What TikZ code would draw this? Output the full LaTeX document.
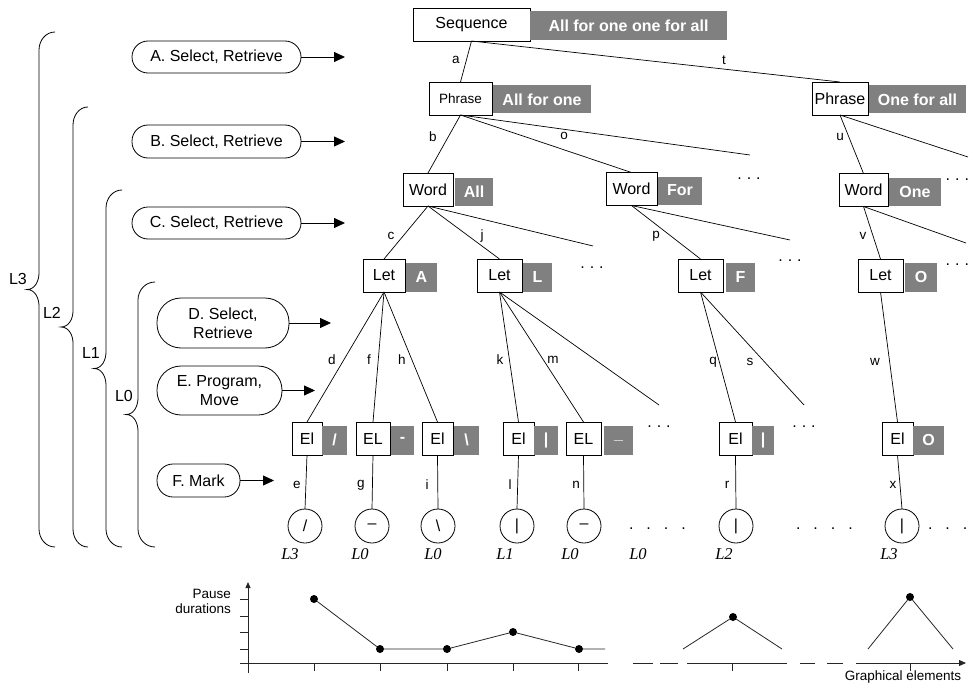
\documentclass[tikz,border=0pt]{standalone}
\usepackage{fontspec}
\setmainfont{Liberation Sans}
\newfontfamily\serifit{Liberation Serif}
\usetikzlibrary{arrows.meta}
\definecolor{lblgray}{RGB}{128,128,128}
\newcommand{\fsz}[1]{\fontsize{#1}{#1}\selectfont}
\newcommand{\tdots}{.\hspace{5pt}.\hspace{5pt}.}
\newcommand{\bdots}{.\hspace{13pt}.\hspace{13pt}.\hspace{13pt}.}
\newcommand{\bdotsthree}{.\hspace{13pt}.\hspace{13pt}.}
\begin{document}
\begin{tikzpicture}[x=1pt,y=-1pt,
  every node/.style={inner sep=0pt, outer sep=0pt},
  wbox/.style={draw, fill=white, line width=0.8pt, font=\fsz{16}, minimum height=33pt},
  gbox/.style={fill=lblgray, text=white, font=\fsz{16}\bfseries, minimum height=29pt},
  tline/.style={line width=0.7pt},
  elab/.style={font=\fsz{13.5}},
  pill/.style={draw, line width=0.8pt, rounded corners=16pt, font=\fontsize{16}{19}\selectfont, align=center},
  arr/.style={line width=0.8pt, -{Triangle[length=11pt,width=10pt]}},
  circ/.style={draw, circle, minimum size=34pt, line width=0.8pt, font=\fsz{16}},
  lev/.style={font=\serifit\itshape\fsz{16.5}},
  ellip/.style={font=\fsz{16}, anchor=base},
  bracel/.style={line width=0.8pt},
  gdot/.style={circle, fill=black, minimum size=8pt},
  axl/.style={line width=0.8pt, black!85},
]
\useasboundingbox (0,0) rectangle (970,685);

% ---------- tree nodes ----------
\node[wbox, minimum width=117pt] (seq) at (471.5,24.5) {Sequence};
\node[gbox, minimum width=197pt] (seqg) at (628.5,25.5) {All for one one for all};

\node[wbox, minimum width=63pt, font=\fsz{13.5}] (phL) at (460.5,98.5) {Phrase};
\node[gbox, minimum width=98pt, minimum height=28pt] (phLg) at (542,99.5) {All for one};
\node[wbox, minimum width=56pt] (phR) at (840,98.5) {Phrase};
\node[gbox, minimum width=97pt, minimum height=28pt] (phRg) at (917.5,99.5) {One for all};

\node[wbox, minimum width=50pt] (wA) at (428,189.5) {Word};
\node[gbox, minimum width=38pt, minimum height=28pt] (wAg) at (474,191.5) {All};
\node[wbox, minimum width=51pt] (wF) at (631.5,189) {Word};
\node[gbox, minimum width=44pt, minimum height=28pt] (wFg) at (680,190.5) {For};
\node[wbox, minimum width=49pt] (wO) at (863.5,190) {Word};
\node[gbox, minimum width=52pt, minimum height=28pt] (wOg) at (915,191.5) {One};

\node[wbox, minimum width=42pt] (lA) at (384,275.5) {Let};
\node[gbox, minimum width=31pt] (lAg) at (421.5,277) {A};
\node[wbox, minimum width=45pt] (lL) at (499.5,275.5) {Let};
\node[gbox, minimum width=29pt] (lLg) at (537.5,277) {L};
\node[wbox, minimum width=45pt] (lF) at (700.5,275.5) {Let};
\node[gbox, minimum width=29pt] (lFg) at (740.5,277) {F};
\node[wbox, minimum width=45pt] (lO) at (880.5,275.5) {Let};
\node[gbox, minimum width=32pt] (lOg) at (921,277) {O};

\node[wbox, minimum width=30pt] (e1) at (307,438.5) {El};
\node[gbox, minimum width=25pt] (e1g) at (334.5,440) {/};
\node[wbox, minimum width=34pt] (e2) at (373,438.5) {EL};
\node[gbox, minimum width=23pt] (e2g) at (402.5,440) {-};
\node[wbox, minimum width=31pt] (e3) at (437.5,438.5) {El};
\node[gbox, minimum width=25pt] (e3g) at (466.5,440) {\textbackslash};
\node[wbox, minimum width=31pt] (e4) at (518.5,438.5) {El};
\node[gbox, minimum width=24pt] (e4g) at (546,440) {|};
\node[wbox, minimum width=35pt] (e5) at (583.5,438.5) {EL};
\node[gbox, minimum width=29pt] (e5g) at (618.5,440) {\_};
\node[wbox, minimum width=33pt] (e6) at (735.5,438.5) {El};
\node[gbox, minimum width=22pt] (e6g) at (763,440) {|};
\node[wbox, minimum width=31pt] (e7) at (897.5,438.5) {El};
\node[gbox, minimum width=31pt] (e7g) at (928.5,440) {O};

\node[circ] (m1) at (305,526) {/};
\node[circ] (m2) at (372,526) {–};
\node[circ] (m3) at (438,526) {\textbackslash};
\node[circ] (m4) at (517,526) {|};
\node[circ] (m5) at (584,526) {–};
\node[circ] (m6) at (736,526) {|};
\node[circ] (m7) at (902,526) {|};

% ---------- dangling ends and ellipses ----------
\coordinate (phLx) at (750,155);
\coordinate (phRx) at (968,157);
\coordinate (wAx) at (593,246);
\coordinate (wFx) at (790,240);
\coordinate (wOx) at (966,243);
\coordinate (lLx) at (659,405);
\coordinate (lFx) at (804,405);

\node[ellip] (phLd) at (749,179) {\tdots};
\node[ellip, anchor=base east] (phRd) at (969,180) {\tdots};
\node[ellip] (wAd) at (592,268) {\tdots};
\node[ellip] (wFd) at (790,261) {\tdots};
\node[ellip, anchor=base east] (wOd) at (969,265) {\tdots};
\node[ellip] (lLd) at (659,427) {\tdots};
\node[ellip] (lFd) at (804,427) {\tdots};
\node[ellip, anchor=base west] (bd1) at (629,529) {\bdots};
\node[ellip, anchor=base west] (bd2) at (796,529) {\bdots};
\node[ellip, anchor=base west] (bd3) at (928,529) {\bdotsthree};

% ---------- tree edges ----------
\draw[tline] (seq.south) -- (phL.north);
\draw[tline] (seq.south) -- (phR.north);
\draw[tline] (phL.south) -- (wA.north);
\draw[tline] (phL.south) -- (wF.north);
\draw[tline] (phL.south) -- (phLx);
\draw[tline] (phR.south) -- (wO.north);
\draw[tline] (phR.south) -- (phRx);
\draw[tline] (wA.south) -- (lA.north);
\draw[tline] (wA.south) -- (lL.north);
\draw[tline] (wA.south) -- (wAx);
\draw[tline] (wF.south) -- (lF.north);
\draw[tline] (wF.south) -- (wFx);
\draw[tline] (wO.south) -- (lO.north);
\draw[tline] (wO.south) -- (wOx);
\draw[tline] (lA.south) -- (e1.north);
\draw[tline] (lA.south) -- (e2.north);
\draw[tline] (lA.south) -- (e3.north);
\draw[tline] (lL.south) -- (e4.north);
\draw[tline] (lL.south) -- (e5.north);
\draw[tline] (lL.south) -- (lLx);
\draw[tline] (lF.south) -- (e6.north);
\draw[tline] (lF.south) -- (lFx);
\draw[tline] (lO.south) -- (e7.north);
\draw[tline] (e1.south) -- (m1.north);
\draw[tline] (e2.south) -- (m2.north);
\draw[tline] (e3.south) -- (m3.north);
\draw[tline] (e4.south) -- (m4.north);
\draw[tline] (e5.south) -- (m5.north);
\draw[tline] (e6.south) -- (m6.north);
\draw[tline] (e7.south) -- (m7.north);

% ---------- edge labels ----------
\node[elab] (la) at (456,60) {a};
\node[elab] (lt) at (724,60) {t};
\node[elab] (lb) at (433,137) {b};
\node[elab] (lo) at (564,136) {o};
\node[elab] (lu) at (840,137) {u};
\node[elab] (lc) at (391,236) {c};
\node[elab] (lj) at (482,236) {j};
\node[elab] (lp) at (656,236) {p};
\node[elab] (lv) at (863,236) {v};
\node[elab] (ld) at (332,360) {d};
\node[elab] (lf) at (369,360) {f};
\node[elab] (lh) at (402,360) {h};
\node[elab] (lk) at (500,360) {k};
\node[elab] (lm) at (553,360) {m};
\node[elab] (lq) at (713,362) {q};
\node[elab] (ls) at (750,362) {s};
\node[elab] (lw) at (875,362) {w};
\node[elab] (le) at (297,485) {e};
\node[elab] (lg) at (361,485) {g};
\node[elab] (li) at (427,485) {i};
\node[elab] (ll) at (510,485) {l};
\node[elab] (ln) at (576,485) {n};
\node[elab] (lr) at (727,485) {r};
\node[elab] (lx) at (893,485) {x};

% ---------- level labels under circles ----------
\node[lev] (v1) at (290,554) {L3};
\node[lev] (v2) at (360,554) {L0};
\node[lev] (v3) at (433,554) {L0};
\node[lev] (v4) at (505,554) {L1};
\node[lev] (v5) at (570,554) {L0};
\node[lev] (v6) at (638,554) {L0};
\node[lev] (v7) at (724,554) {L2};
\node[lev] (v8) at (889,554) {L3};

% ---------- process pills ----------
\node[pill, minimum width=169pt, minimum height=32pt] (pA) at (216.5,57) {A. Select, Retrieve};
\node[pill, minimum width=169pt, minimum height=33pt] (pB) at (216.5,141.5) {B. Select, Retrieve};
\node[pill, minimum width=169pt, minimum height=32pt] (pC) at (216.5,223) {C. Select, Retrieve};
\node[pill, minimum width=132pt, minimum height=50pt, rounded corners=24pt] (pD) at (223,323) {D. Select,\\Retrieve};
\node[pill, minimum width=125pt, minimum height=49pt, rounded corners=24pt] (pE) at (219.5,390.5) {E. Program,\\Move};
\node[pill, minimum width=83pt, minimum height=33pt] (pF) at (198.5,480.5) {F. Mark};

\coordinate (aA) at (345,57);
\coordinate (aB) at (345,141.5);
\coordinate (aC) at (345,223);
\coordinate (aD) at (331,323);
\coordinate (aE) at (315,390.5);
\coordinate (aF) at (274,480.5);
\draw[arr] (pA.east) -- (aA);
\draw[arr] (pB.east) -- (aB);
\draw[arr] (pC.east) -- (aC);
\draw[arr] (pD.east) -- (aD);
\draw[arr] (pE.east) -- (aE);
\draw[arr] (pF.east) -- (aF);

% ---------- braces ----------
\draw[bracel] (55,32) to[out=180,in=90] (39,50) -- (39,273) to[out=270,in=0] (27,289.5) to[out=0,in=90] (39,306) -- (39,529) to[out=270,in=180] (55,547);
\draw[bracel] (88,107) to[out=180,in=90] (73,125) -- (73,311) to[out=270,in=0] (61,327) to[out=0,in=90] (73,343) -- (73,529) to[out=270,in=180] (88,547);
\draw[bracel] (122,190) to[out=180,in=90] (106,208) -- (106,352) to[out=270,in=0] (94,368.5) to[out=0,in=90] (106,385) -- (106,529) to[out=270,in=180] (122,547);
\draw[bracel] (155,282) to[out=180,in=90] (138,300) -- (138,398) to[out=270,in=0] (126,414.5) to[out=0,in=90] (138,431) -- (138,529) to[out=270,in=180] (155,547);
\node[font=\fsz{16}] (bL3) at (18,279) {L3};
\node[font=\fsz{16}] (bL2) at (52,313) {L2};
\node[font=\fsz{16}] (bL1) at (91,353) {L1};
\node[font=\fsz{16}] (bL0) at (124,396) {L0};

% ---------- pause-duration chart ----------
\draw[axl, -{Triangle[length=6pt,width=5pt]}] (248,673) -- (248,582);
\foreach \yy in {599,616,632,649} \draw[axl] (240,\yy) -- (248,\yy);
\draw[axl] (240,663) -- (608,663);
\draw[axl] (633,663) -- (653,663);
\draw[axl] (660,663) -- (678,663);
\draw[axl] (687,663) -- (787,663);
\draw[axl] (800,663) -- (815,663);
\draw[axl] (827,663) -- (843,663);
\draw[axl, -{Triangle[length=7pt,width=6pt]}] (856,663) -- (966,663);
\foreach \xx in {314,380,447,513,578,732,910} \draw[axl] (\xx,663) -- (\xx,671);

\node[gdot] (p1) at (314,599) {};
\node[gdot] (p2) at (380,649) {};
\node[gdot] (p3) at (447,649) {};
\node[gdot] (p4) at (513,632) {};
\node[gdot] (p5) at (579,649) {};
\coordinate (pe) at (605,649);
\node[gdot] (q1) at (733,617) {};
\coordinate (q1l) at (683,649);
\coordinate (q1r) at (782,649);
\node[gdot] (q2) at (910,597) {};
\coordinate (q2l) at (868,649);
\coordinate (q2r) at (953,649);
\draw[axl] (p1) -- (p2) -- (p3) -- (p4) -- (p5) -- (pe);
\draw[axl] (q1l) -- (q1) -- (q1r);
\draw[axl] (q2l) -- (q2) -- (q2r);

\node[font=\fontsize{13.5}{15}\selectfont, align=right, anchor=east] (ylab) at (231,601) {Pause\\durations};
\node[font=\fsz{13.5}] (xlab) at (903,677) {Graphical elements};
\end{tikzpicture}
\end{document}
